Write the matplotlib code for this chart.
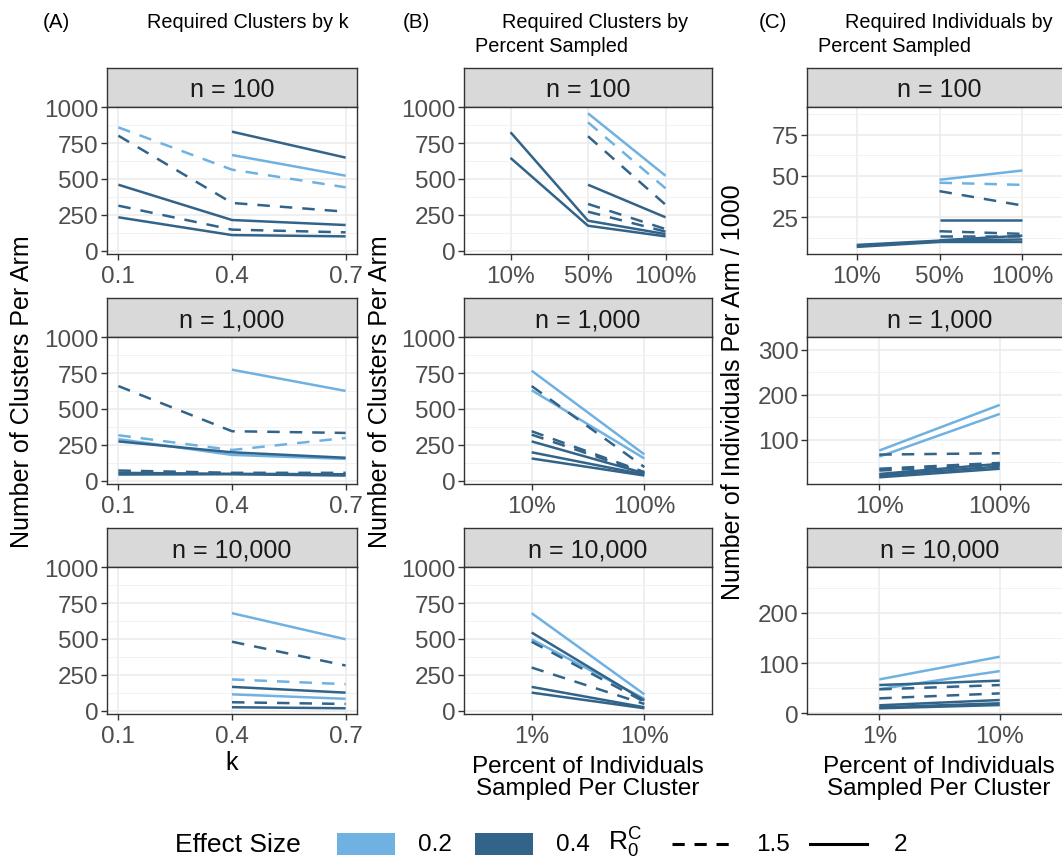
import numpy as np
import matplotlib
matplotlib.use("Agg")
import matplotlib.pyplot as plt
from matplotlib.patches import Rectangle
from matplotlib.lines import Line2D

plt.rcParams['font.family'] = ['Liberation Sans', 'DejaVu Sans']
plt.rcParams['mathtext.fontset'] = 'custom'
plt.rcParams['mathtext.rm'] = 'Liberation Sans'
plt.rcParams['mathtext.it'] = 'Liberation Sans:italic'

nan = np.nan

# x values / categories
k_vals = [0.1, 0.4, 0.7]
pct_n100 = ["10%", "50%", "100%"]
pct_n1000 = ["10%", "100%"]
pct_n10000 = ["1%", "10%"]
strip_labels = ["n = 100", "n = 1,000", "n = 10,000"]

# (effect size, R0, values)
A_n100 = [
    ("0.2", "2", [nan, 667, 523]),
    ("0.2", "1.5", [860, 565, 442]),
    ("0.4", "2", [nan, 830, 649]),
    ("0.4", "1.5", [802, 333, 272]),
    ("0.4", "2", [460, 214, 179]),
    ("0.4", "1.5", [314, 147, 128]),
    ("0.4", "2", [233, 109, 100]),
]
A_n1000 = [
    ("0.2", "2", [nan, 774, 626]),
    ("0.2", "1.5", [317, 214, 298]),
    ("0.2", "2", [290, 180, 152]),
    ("0.4", "1.5", [660, 345, 333]),
    ("0.4", "2", [274, 198, 160]),
    ("0.4", "1.5", [71, 55, 55]),
    ("0.4", "2", [55, 48, 45]),
    ("0.4", "2", [43, 45, 36]),
]
A_n10000 = [
    ("0.2", "2", [nan, 680, 498]),
    ("0.2", "1.5", [nan, 218, 185]),
    ("0.2", "2", [nan, 114, 83]),
    ("0.4", "1.5", [nan, 481, 315]),
    ("0.4", "2", [nan, 166, 126]),
    ("0.4", "1.5", [nan, 59, 47]),
    ("0.4", "2", [nan, 24, 17]),
]
B_n100 = [
    ("0.2", "2", [nan, 958, 523]),
    ("0.2", "1.5", [nan, 895, 435]),
    ("0.4", "1.5", [nan, 798, 321]),
    ("0.4", "2", [nan, 460, 233]),
    ("0.4", "1.5", [nan, 326, 151]),
    ("0.4", "1.5", [nan, 272, 133]),
    ("0.4", "2", [826, 209, 116]),
    ("0.4", "2", [647, 174, 100]),
]
B_n1000 = [
    ("0.2", "2", [767, 183]),
    ("0.2", "2", [631, 155]),
    ("0.4", "1.5", [660, 95]),
    ("0.4", "1.5", [345, 60]),
    ("0.4", "1.5", [321, 55]),
    ("0.4", "2", [274, 52]),
    ("0.4", "2", [198, 43]),
    ("0.4", "2", [155, 36]),
]
B_n10000 = [
    ("0.2", "2", [680, 114]),
    ("0.2", "2", [498, 83]),
    ("0.4", "2", [545, 71]),
    ("0.4", "1.5", [481, 62]),
    ("0.4", "1.5", [301, 47]),
    ("0.4", "2", [166, 24]),
    ("0.4", "2", [126, 17]),
]
C_n100 = [
    ("0.2", "2", [nan, 47.7, 53.3]),
    ("0.2", "1.5", [nan, 45.9, 44.6]),
    ("0.4", "1.5", [nan, 40.8, 32.1]),
    ("0.4", "2", [nan, 23.6, 23.6]),
    ("0.4", "1.5", [nan, 16.5, 14.9]),
    ("0.4", "1.5", [nan, 13.5, 13.5]),
    ("0.4", "2", [7.0, 10.0, 10.0]),
    ("0.4", "2", [8.2, 10.8, 11.5]),
    ("0.4", "2", [nan, 11.0, 13.8]),
]
C_n1000 = [
    ("0.2", "2", [75.5, 177]),
    ("0.2", "2", [62, 157]),
    ("0.4", "1.5", [66.5, 69.5]),
    ("0.4", "1.5", [35, 48]),
    ("0.4", "1.5", [31, 43.5]),
    ("0.4", "2", [23.4, 46]),
    ("0.4", "2", [20, 40]),
    ("0.4", "2", [16, 35]),
]
C_n10000 = [
    ("0.2", "2", [67.5, 112.6]),
    ("0.2", "2", [48.3, 84]),
    ("0.4", "2", [56.3, 65]),
    ("0.4", "1.5", [47.7, 56.3]),
    ("0.4", "1.5", [29.8, 39.7]),
    ("0.4", "2", [16, 26.5]),
    ("0.4", "2", [12, 20]),
    ("0.4", "2", [10, 16.5]),
]

colors = {"0.2": "#6FB1E1", "0.4": "#326389"}
DASH = (5, 4)
LW = 1.8

W, H = 1062, 862
fig = plt.figure(figsize=(W / 100, H / 100), dpi=100)


def px_axes(x0, y0, x1, y1):
    return fig.add_axes([x0 / W, 1 - y1 / H, (x1 - x0) / W, (y1 - y0) / H])


col_x = [(107, 357), (464, 712), (807, 1072)]
row_y = [(69, 108, 255), (299, 338, 485), (529, 568, 715)]

panels = [
    [(A_n100, k_vals), (B_n100, pct_n100), (C_n100, pct_n100)],
    [(A_n1000, k_vals), (B_n1000, pct_n1000), (C_n1000, pct_n1000)],
    [(A_n10000, k_vals), (B_n10000, pct_n10000), (C_n10000, pct_n10000)],
]
ylims_c = [(2.7, 91.8), (1.1, 328), (-1.3, 291)]
yticks_c = [[25, 50, 75], [100, 200, 300], [0, 100, 200]]
yminor_c = [[12.5, 37.5, 62.5, 87.5], [50, 150, 250], [50, 150, 250]]

for r in range(3):
    st, top, bot = row_y[r]
    for c in range(3):
        x0, x1 = col_x[c]
        data, xcats = panels[r][c]
        # strip
        sax = px_axes(x0, st, x1, top)
        sax.set_facecolor("#D9D9D9")
        sax.set_xticks([]); sax.set_yticks([])
        for sp in sax.spines.values():
            sp.set_color("#333333"); sp.set_linewidth(1.0)
        sax.text(0.5, 0.45, strip_labels[r],
                 transform=sax.transAxes, ha="center", va="center",
                 fontsize=18, color="#1A1A1A")

        ax = px_axes(x0, top, x1, bot)
        if c == 0:
            xs = k_vals
            ax.set_xlim(0.07, 0.73)
            ax.set_xticks(k_vals)
            ax.set_xticklabels(["0.1", "0.4", "0.7"])
        else:
            xs = list(range(1, len(xcats) + 1))
            ax.set_xlim(0.4, len(xcats) + 0.6)
            ax.set_xticks(xs)
            ax.set_xticklabels(xcats)
        if c < 2:
            ax.set_ylim(-23, 1002)
            ax.set_yticks([0, 250, 500, 750, 1000])
            ax.set_yticks([125, 375, 625, 875], minor=True)
        else:
            ax.set_ylim(*ylims_c[r])
            ax.set_yticks(yticks_c[r])
            ax.set_yticks(yminor_c[r], minor=True)

        ax.grid(True, which="major", color="#EBEBEB", linewidth=1.1, zorder=0)
        ax.grid(True, which="minor", axis="y", color="#F2F2F2", linewidth=0.7, zorder=0)
        ax.set_axisbelow(True)
        for sp in ax.spines.values():
            sp.set_color("#333333"); sp.set_linewidth(1.0)
        ax.tick_params(which="major", length=4, width=1, color="#333333",
                       labelsize=17.5, labelcolor="#4D4D4D", pad=2)
        ax.tick_params(axis="x", which="major", pad=4)
        ax.tick_params(which="minor", length=0)

        for eff in ["0.2", "0.4"]:
            for e, r0, vals in data:
                if e != eff:
                    continue
                line, = ax.plot(xs, vals, color=colors[e], linewidth=LW,
                                solid_capstyle="butt", zorder=3)
                if r0 == "1.5":
                    line.set_dashes(DASH)
                    line.set_dash_capstyle("butt")

# overlay for titles, axis titles, legend
ov = fig.add_axes([0, 0, 1, 1], facecolor="none")
ov.set_xlim(0, W); ov.set_ylim(H, 0); ov.axis("off")

tsize = 14.3
ov.text(43, 23, "(A)", fontsize=tsize + 0.5, va="center", ha="left")
ov.text(147, 23, "Required Clusters by k", fontsize=tsize, va="center", ha="left")
ov.text(403, 23, "(B)", fontsize=tsize + 0.5, va="center", ha="left")
ov.text(502, 23, "Required Clusters by", fontsize=tsize, va="center", ha="left")
ov.text(475, 47, "Percent Sampled", fontsize=tsize, va="center", ha="left")
ov.text(759, 23, "(C)", fontsize=tsize + 0.5, va="center", ha="left")
ov.text(845, 23, "Required Individuals by", fontsize=tsize, va="center", ha="left")
ov.text(818, 47, "Percent Sampled", fontsize=tsize, va="center", ha="left")

ov.text(22, 392, "Number of Clusters Per Arm", rotation=90, fontsize=18,
        ha="center", va="center")
ov.text(380, 392, "Number of Clusters Per Arm", rotation=90, fontsize=18,
        ha="center", va="center")
ov.text(733, 392, "Number of Individuals Per Arm / 1000", rotation=90, fontsize=18,
        ha="center", va="center")

ov.text(232, 763, "k", fontsize=18, ha="center", va="center")
ov.text(588, 778, "Percent of Individuals\nSampled Per Cluster", fontsize=17.5,
        ha="center", va="center", linespacing=1.0)
ov.text(939, 778, "Percent of Individuals\nSampled Per Cluster", fontsize=17.5,
        ha="center", va="center", linespacing=1.0)

# legend
ly = 845
ov.text(175, ly, "Effect Size", fontsize=19, ha="left", va="center")
ov.add_patch(Rectangle((337, 834), 58, 22, facecolor=colors["0.2"], edgecolor="none"))
ov.text(418, ly, "0.2", fontsize=17.5, ha="left", va="center")
ov.add_patch(Rectangle((475, 834), 58, 22, facecolor=colors["0.4"], edgecolor="none"))
ov.text(556, ly, "0.4", fontsize=17.5, ha="left", va="center")
ov.text(608, ly - 2, r"$\mathrm{R_0^C}$", fontsize=19, ha="left", va="center")
dl = Line2D([672, 730], [ly, ly], color="black", linewidth=2.2)
dl.set_dashes((4, 3.2))
ov.add_line(dl)
ov.text(756, ly, "1.5", fontsize=17.5, ha="left", va="center")
ov.add_line(Line2D([810, 867], [ly, ly], color="black", linewidth=2.2))
ov.text(894, ly, "2", fontsize=17.5, ha="left", va="center")

fig.savefig("out.png", dpi=100)
